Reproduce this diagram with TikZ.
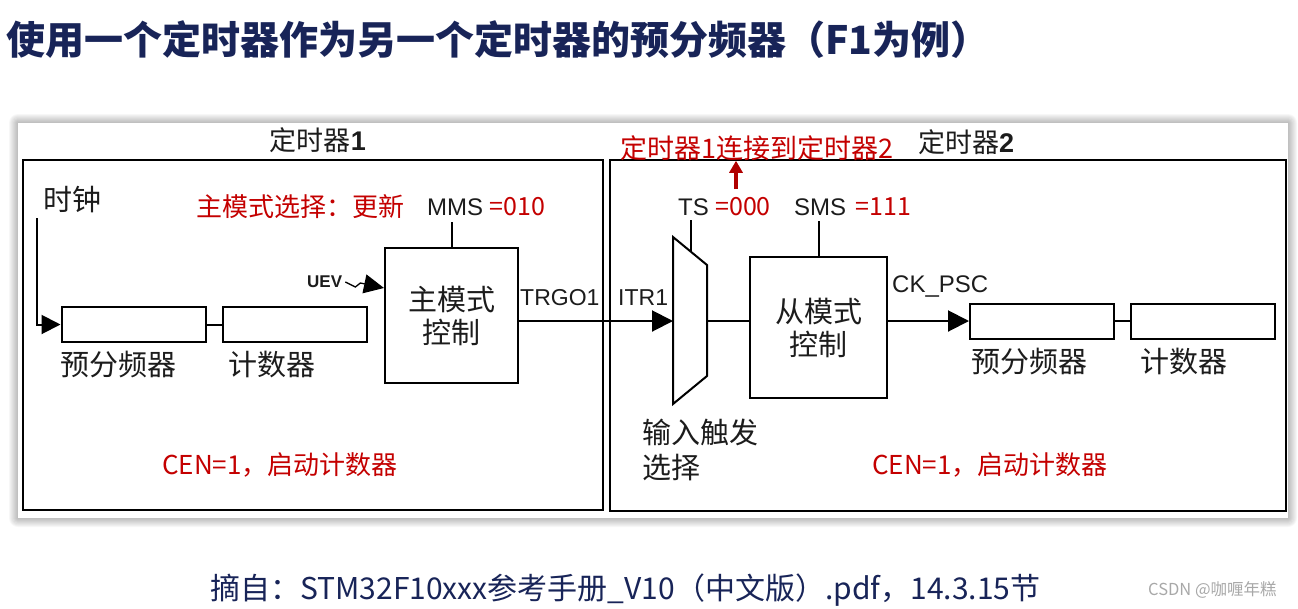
\documentclass[tikz,border=0pt]{standalone}
\usepackage{fontspec}
\setmainfont{Liberation Sans}
\newfontfamily\cjk{Noto Sans CJK SC}
\usetikzlibrary{arrows.meta,positioning,calc}
\definecolor{titlecol}{RGB}{24,36,88}
\definecolor{notecol}{RGB}{196,0,0}
\definecolor{linkcol}{RGB}{176,0,0}
\definecolor{inkcol}{RGB}{28,28,28}
\definecolor{markcol}{RGB}{168,168,168}
\newcommand{\fsz}[1]{\fontsize{#1}{#1}\selectfont}
\tikzset{
  % timer outline
  timerframe/.style={draw=black, line width=2.4pt},
  % prescaler / counter register
  regbox/.style={rectangle, draw=black, line width=2pt, minimum width=144pt, minimum height=35pt, inner sep=0pt},
  % master / slave mode controller
  ctrlbox/.style={rectangle, draw=black, line width=2pt, align=center, font=\cjk\fontsize{29}{33}\selectfont,
                  text=inkcol, inner sep=0pt},
  % black chinese label
  cnlabel/.style={font=\cjk\fsz{29}, text=inkcol, inner sep=0pt, anchor=west},
  % red remark
  remark/.style={font=\cjk\fsz{#1}, text=notecol, inner sep=0pt, anchor=west},
  remark/.default={26},
  % register field / signal name
  reglabel/.style={font=\fsz{#1}, text=inkcol, inner sep=0pt, anchor=west},
  reglabel/.default={24},
  % plain wire
  wire/.style={line width=2pt},
  % wire with input arrow
  sigarrow/.style={wire, -{Triangle[length=21pt,width=21pt]}},
}

\begin{document}
\begin{tikzpicture}[x=1pt,y=-1pt]
  \useasboundingbox (0,0) rectangle (1298,608);

  % title
  \node[anchor=west, inner sep=0pt, font=\cjk\bfseries\fsz{39}, text=titlecol] (title) at (6,40)
    {使用一个定时器作为另一个定时器的预分频器（F1为例）};

  % shadowed panel
  \foreach \i in {0,...,9} {
    \fill[black, opacity=0.03, rounded corners=\i pt] (18-\i,123-\i) rectangle (1288+\i,518+\i);
  }
  \fill[white] (18,123) rectangle (1288,518);

  % Timer 1
  \draw[timerframe] (23,160) rectangle (603,510);
  \node[font=\cjk\fsz{27}, text=inkcol, inner sep=0pt] (t1name) at (318,140) {定时器{\rmfamily\bfseries 1}};
  \node[cnlabel] (clk) at (43,200) {时钟};
  \node[regbox] (psc1) at (133.5,324.5) {};
  \node[regbox] (cnt1) at (295,324.5) {};
  \node[cnlabel, below right=8pt and 0pt of psc1.south west] (psc1lbl) {预分频器};
  \node[cnlabel, below right=8pt and 6pt of cnt1.south west] (cnt1lbl) {计数器};
  \node[ctrlbox, minimum width=133pt, minimum height=135pt] (master) at (451.5,315.5) {主模式\\控制};
  \node[remark] (mmsnote) at (196,207) {主模式选择：更新};
  \node[reglabel] (mms) at (427,207) {MMS};
  \node[remark=25, right=6pt of mms] (mmsval) {=010};
  \node[reglabel, font=\bfseries\fsz{17}] (uev) at (307,282) {UEV};
  \node[reglabel=23] (trgo) at (520,298) {TRGO1};
  \node[remark] (cen1) at (162,465) {CEN=1，启动计数器};

  \coordinate (clktop) at (37,218);
  \draw[wire, -{Triangle[length=19pt,width=19pt]}] (clktop) |- (psc1.west);
  \draw[wire] (psc1) -- (cnt1);
  \draw[wire] (master.north) -- ++(0,-25);
  \draw[line width=1.3pt, -{Triangle[length=20pt,width=19pt]}]
    ([xshift=3pt]uev.east) -- ++(10,5) -- ++(5,-4) -- ($(master.north west)+(0,41)$);

  % Timer 2
  \draw[timerframe] (610,160) rectangle (1286,511);
  \node[font=\cjk\fsz{27}, text=inkcol, inner sep=0pt] (t2name) at (966,142) {定时器{\rmfamily\bfseries 2}};
  \node[remark=27] (link) at (620,148) {定时器1连接到定时器2};
  \coordinate (linkfoot) at (736,189);
  \draw[linkcol, line width=3.6pt, -{Triangle[length=12pt,width=13pt]}] (linkfoot) -- (linkfoot |- link.south);

  % trigger selector
  \coordinate (muxnw) at (673,237);
  \coordinate (muxne) at (707,265);
  \coordinate (muxse) at (707,376);
  \coordinate (muxsw) at (673,404);
  \coordinate (muxin) at (673,321);
  \coordinate (muxout) at (707,321);
  \draw[wire] (muxnw) -- (muxne) -- (muxse) -- (muxsw) -- cycle;
  \node[reglabel] (ts) at (678,207) {TS};
  \node[remark=25, right=6pt of ts] (tsval) {=000};
  \draw[wire] ($(muxnw)!0.53!(muxne)$) -- ++(0,-32);
  \node[cnlabel, align=left, font=\cjk\fontsize{29}{35}\selectfont] (trgsel) at (642,449.5) {输入触发\\选择};
  \node[reglabel=23] (itr) at (618,298) {ITR1};

  \node[ctrlbox, minimum width=137pt, minimum height=141pt] (slave) at (818.5,327.5) {从模式\\控制};
  \node[reglabel] (sms) at (794,207) {SMS};
  \node[remark=25, right=9pt of sms] (smsval) {=111};
  \draw[wire] (slave.north) -- ++(0,-35);
  \node[reglabel] (ckpsc) at (892,287) {CK\_PSC};

  \node[regbox] (psc2) at (1042,321) {};
  \node[regbox] (cnt2) at (1203,321) {};
  \node[cnlabel, below right=8pt and 2pt of psc2.south west] (psc2lbl) {预分频器};
  \node[cnlabel, below right=8pt and 10pt of cnt2.south west] (cnt2lbl) {计数器};
  \node[remark] (cen2) at (872,465) {CEN=1，启动计数器};

  \draw[sigarrow] (master.east |- muxin) -- (muxin);
  \draw[wire] (muxout) -- (slave.west |- muxout);
  \draw[sigarrow] (slave.east |- psc2.west) -- (psc2.west);
  \draw[wire] (psc2) -- (cnt2);

  % source line
  \node[anchor=west, inner sep=0pt, font=\cjk\fsz{30}, text=titlecol] (source) at (210,590)
    {摘自：STM32F10xxx参考手册\_V10（中文版）.pdf，14.3.15节};
  \node[anchor=west, inner sep=0pt, font=\cjk\fsz{16.5}, text=markcol] (mark) at (1148,590) {CSDN @咖喱年糕};
\end{tikzpicture}
\end{document}
